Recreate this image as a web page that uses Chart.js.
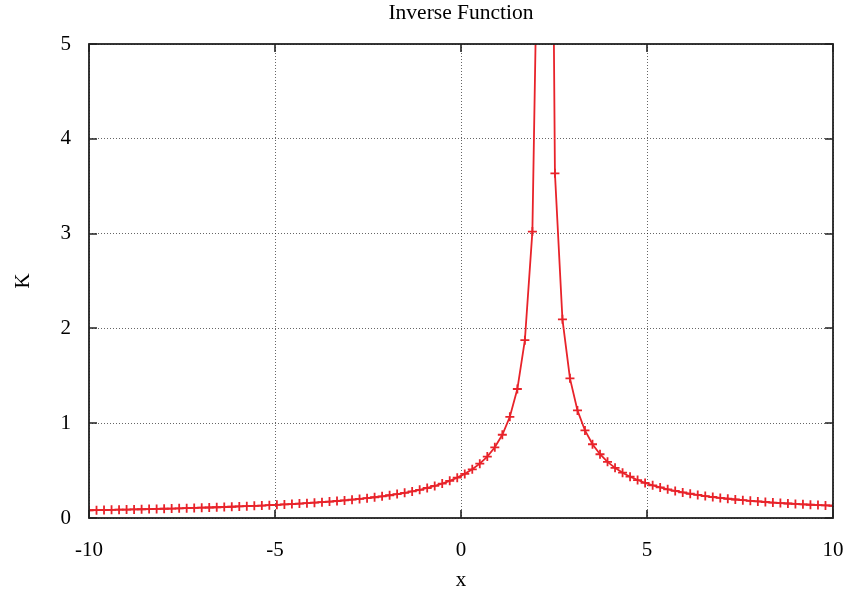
<!DOCTYPE html>
<html>
<head>
<meta charset="utf-8">
<script src="https://cdn.jsdelivr.net/npm/chart.js@4"></script>
<style>
  html, body { margin: 0; padding: 0; background: #fff; }
  #wrap { width: 849px; height: 593px; }
</style>
</head>
<body>
<div id="wrap"><canvas id="canvasInverse"></canvas></div>
<script>
// valeurs (100 echantillons de -10 a 10)
const valeursX = [
  -10.00, -9.798, -9.596, -9.394, -9.192, -8.990, -8.788, -8.586, -8.384, -8.182,
  -7.980, -7.778, -7.576, -7.374, -7.172, -6.970, -6.768, -6.566, -6.364, -6.162,
  -5.960, -5.758, -5.556, -5.354, -5.152, -4.949, -4.747, -4.545, -4.343, -4.141,
  -3.939, -3.737, -3.535, -3.333, -3.131, -2.929, -2.727, -2.525, -2.323, -2.121,
  -1.919, -1.717, -1.515, -1.313, -1.111, -0.909, -0.707, -0.505, -0.303, -0.101,
  0.101, 0.303, 0.505, 0.707, 0.909, 1.111, 1.313, 1.515, 1.717, 1.919,
  2.121, 2.323, 2.525, 2.727, 2.929, 3.131, 3.333, 3.535, 3.737, 3.939,
  4.141, 4.343, 4.545, 4.747, 4.949, 5.152, 5.354, 5.556, 5.758, 5.960,
  6.162, 6.364, 6.566, 6.768, 6.970, 7.172, 7.374, 7.576, 7.778, 7.980,
  8.182, 8.384, 8.586, 8.788, 8.990, 9.192, 9.394, 9.596, 9.798, 10.00
]
const valeursK = [
  0.0816, 0.0830, 0.0844, 0.0859, 0.0874, 0.0890, 0.0906, 0.0923, 0.0940, 0.0959,
  0.0978, 0.0997, 0.1018, 0.1039, 0.1061, 0.1085, 0.1109, 0.1134, 0.1161, 0.1189,
  0.1218, 0.1249, 0.1281, 0.1315, 0.1351, 0.1389, 0.1429, 0.1472, 0.1517, 0.1565,
  0.1616, 0.1670, 0.1729, 0.1791, 0.1858, 0.1931, 0.2009, 0.2094, 0.2187, 0.2288,
  0.2399, 0.2521, 0.2656, 0.2807, 0.2975, 0.3166, 0.3382, 0.3630, 0.3917, 0.4254,
  0.4653, 0.5136, 0.5731, 0.6481, 0.7457, 0.8780, 1.0672, 1.3605, 1.8762, 3.0211,
  7.75, 13.7, 3.636, 2.096, 1.473, 1.135, 0.9234, 0.7782, 0.6725, 0.5921,
  0.5288, 0.4778, 0.4357, 0.4005, 0.3705, 0.3446, 0.3222, 0.3025, 0.2851, 0.2695,
  0.2556, 0.2431, 0.2317, 0.2213, 0.2119, 0.2032, 0.1952, 0.1878, 0.1809, 0.1745,
  0.1686, 0.1630, 0.1578, 0.1530, 0.1484, 0.1441, 0.1400, 0.1361, 0.1325, 0.1290
]
const ticksX = [-10, -5, 0, 5, 10]
const ticksY = [0, 1, 2, 3, 4, 5]
const titreGraphe = "Inverse Function"

const couleurCourbe = "#e8232a"
const policeSerif = "'Liberation Serif', 'DejaVu Serif', serif"

// cadre noir + petites graduations vers l'interieur + titre centre sur la zone du graphe
const cadrePlugin = {
  id: "cadre",
  afterDraw(chart) {
    const ctx = chart.ctx
    const a = chart.chartArea
    const sx = chart.scales.x
    const sy = chart.scales.y
    const lg = 8
    ctx.save()
    ctx.strokeStyle = "#222"
    ctx.lineWidth = 1.6
    for (let v of ticksX) {
      let px = Math.round(sx.getPixelForValue(v))
      ctx.beginPath()
      ctx.moveTo(px, a.bottom); ctx.lineTo(px, a.bottom - lg)
      ctx.moveTo(px, a.top); ctx.lineTo(px, a.top + lg)
      ctx.stroke()
    }
    for (let v of ticksY) {
      let py = Math.round(sy.getPixelForValue(v))
      ctx.beginPath()
      ctx.moveTo(a.left, py); ctx.lineTo(a.left + lg, py)
      ctx.moveTo(a.right, py); ctx.lineTo(a.right - lg, py)
      ctx.stroke()
    }
    ctx.lineWidth = 1.8
    ctx.strokeRect(a.left, a.top, a.right - a.left, a.bottom - a.top)

    ctx.fillStyle = "#000"
    ctx.font = "21.5px " + policeSerif
    ctx.textAlign = "center"
    ctx.textBaseline = "middle"
    ctx.fillText(titreGraphe, (a.left + a.right) / 2, 13)
    ctx.restore()
  }
}

let canvas = document.getElementById("canvasInverse")
new Chart(canvas, {
    type: "line",
    data: {
        datasets: [{
            label: "K",
            data: valeursX.map((x, i) => ({x: x, y: valeursK[i]})),
            borderColor: couleurCourbe,
            backgroundColor: couleurCourbe,
            borderWidth: 1.8,
            pointStyle: "cross",
            pointRadius: 4.5,
            pointBorderWidth: 1.8,
            pointHoverRadius: 4.5,
            tension: 0,
            fill: false
        }]
    },
    options: {
        responsive: true,
        maintainAspectRatio: false,
        animation: false,
        layout: {
            padding: {left: 0, right: 16, top: 44, bottom: 0}
        },
        scales: {
            x: {
                type: "linear",
                min: -10,
                max: 10,
                afterFit: function(scale) {
                    scale.height = 75
                    scale.paddingLeft = 0
                    scale.paddingRight = 0
                },
                afterBuildTicks: function(scale) { scale.ticks = ticksX.map(v => ({value: v})) },
                border: {display: false, dash: [1, 2]},
                grid: {
                    color: "rgba(0,0,0,0.6)",
                    lineWidth: 1,
                    drawTicks: false
                },
                ticks: {
                    color: "#000",
                    padding: 20,
                    maxRotation: 0,
                    font: {family: policeSerif, size: 21}
                },
                title: {
                    display: true,
                    text: "x",
                    color: "#000",
                    padding: {top: 0, bottom: 0},
                    font: {family: policeSerif, size: 21}
                }
            },
            y: {
                type: "linear",
                min: 0,
                max: 5,
                afterFit: function(scale) {
                    scale.width = 89
                    scale.paddingTop = 0
                    scale.paddingBottom = 0
                },
                afterBuildTicks: function(scale) { scale.ticks = ticksY.map(v => ({value: v})) },
                border: {display: false, dash: [1, 2]},
                grid: {
                    color: "rgba(0,0,0,0.6)",
                    lineWidth: 1,
                    drawTicks: false
                },
                ticks: {
                    color: "#000",
                    padding: 18,
                    font: {family: policeSerif, size: 21}
                },
                title: {
                    display: true,
                    text: "K",
                    color: "#000",
                    padding: {top: 11, bottom: 0},
                    font: {family: policeSerif, size: 21}
                }
            }
        },
        plugins: {
            legend: {display: false},
            tooltip: {enabled: false},
            title: {display: false}
        }
    },
    plugins: [cadrePlugin]
})
</script>
</body>
</html>
